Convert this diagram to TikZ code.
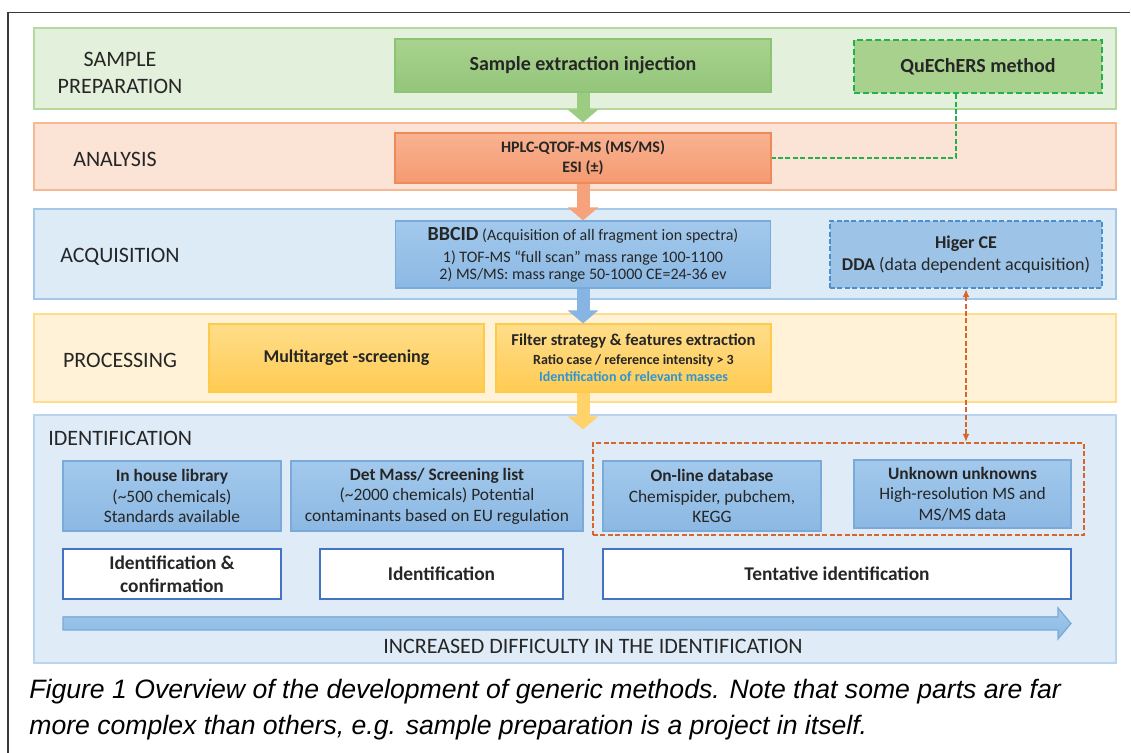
\documentclass[tikz,border=0pt]{standalone}
\usepackage{fontspec}
\setmainfont{Carlito}
\newfontfamily\capfont{Liberation Sans}
\usetikzlibrary{arrows.meta}
\definecolor{txtGray}{HTML}{262626}
\definecolor{frameGray}{HTML}{3A3A3A}
\definecolor{sampleFill}{HTML}{E3F0DB}
\definecolor{sampleLine}{HTML}{B5D8A0}
\definecolor{greenTop}{HTML}{A9D38F}
\definecolor{greenBot}{HTML}{93C57A}
\definecolor{greenLine}{HTML}{8CC474}
\definecolor{greenArrow}{HTML}{9CCB82}
\definecolor{quechersFill}{HTML}{A9D18E}
\definecolor{dashGreen}{HTML}{22B14C}
\definecolor{analysisFill}{HTML}{FBE3D5}
\definecolor{analysisLine}{HTML}{F6B994}
\definecolor{orangeTop}{HTML}{F9B291}
\definecolor{orangeBot}{HTML}{F49A70}
\definecolor{orangeLine}{HTML}{EE8A5A}
\definecolor{orangeArrow}{HTML}{F6A27C}
\definecolor{acqFill}{HTML}{DDEBF7}
\definecolor{acqLine}{HTML}{A6C8E8}
\definecolor{blueTop}{HTML}{A3C9EC}
\definecolor{blueBot}{HTML}{8BB8E3}
\definecolor{blueLine}{HTML}{7AAAD9}
\definecolor{higerFill}{HTML}{9DC3E6}
\definecolor{dashBlue}{HTML}{4A90D0}
\definecolor{blueArrow}{HTML}{86B5E3}
\definecolor{procFill}{HTML}{FFF2D6}
\definecolor{procLine}{HTML}{FFDD8C}
\definecolor{yellowTop}{HTML}{FFDD8A}
\definecolor{yellowBot}{HTML}{FFCB52}
\definecolor{yellowLine}{HTML}{FFC94A}
\definecolor{yellowArrow}{HTML}{FFD36A}
\definecolor{massBlue}{HTML}{2E95D3}
\definecolor{identFill}{HTML}{DFEBF7}
\definecolor{identLine}{HTML}{B8D4EE}
\definecolor{whiteLine}{HTML}{4472C4}
\definecolor{dashOrange}{HTML}{D8662B}
\begin{document}
\begin{tikzpicture}[x=0.5pt, y=-0.5pt,
    bandStyle/.style={rectangle, draw, line width=0.6pt, minimum width=541pt, inner sep=0pt},
    tagStyle/.style={font=\fontsize{11}{13.5}\selectfont, text=txtGray, align=center, inner sep=0pt},
    boxStyle/.style={rectangle, draw, line width=0.6pt, inner sep=0pt, align=center, text=txtGray},
    greenBox/.style={boxStyle, top color=greenTop, bottom color=greenBot, draw=greenLine},
    orangeBox/.style={boxStyle, top color=orangeTop, bottom color=orangeBot, draw=orangeLine},
    blueBox/.style={boxStyle, top color=blueTop, bottom color=blueBot, draw=blueLine},
    yellowBox/.style={boxStyle, top color=yellowTop, bottom color=yellowBot, draw=yellowLine, minimum width=137.5pt, minimum height=34pt},
    idBox/.style={blueBox, minimum height=35pt, font=\fontsize{8.7}{10.3}\selectfont},
    whiteBox/.style={boxStyle, fill=white, draw=whiteLine, line width=1pt, minimum height=25pt, font=\bfseries\fontsize{9.7}{11.5}\selectfont},
    flowArrow/.style={line width=6.5pt, -{Triangle[width=15pt, length=6.5pt]}},
    linkDash/.style={line width=1.1pt, dash pattern=on 2.5pt off 1.2pt},
    capStyle/.style={font=\capfont\itshape\fontsize{13.3}{15}\selectfont, inner sep=0pt, anchor=west}]
    \useasboundingbox (0, 0) rectangle (1131, 753);
    \fill[white] (0, 0) rectangle (1131, 753);
    \draw[frameGray, line width=0.75pt] (8, 753) -- (8, 12.7) -- (1130, 12.7);

    \node[bandStyle, fill=sampleFill,   draw=sampleLine,   minimum height=40.5pt] (sampleBand)   at (575,  68.5) {};
    \node[bandStyle, fill=analysisFill, draw=analysisLine, minimum height=33.5pt] (analysisBand) at (575, 156.5) {};
    \node[bandStyle, fill=acqFill,      draw=acqLine,      minimum height=45pt]   (acqBand)      at (575, 254) {};
    \node[bandStyle, fill=procFill,     draw=procLine,     minimum height=44pt]   (procBand)     at (575, 358) {};
    \node[bandStyle, fill=identFill,    draw=identLine,    minimum height=124pt]  (identBand)    at (575, 539) {};

    \node[tagStyle] (sampleTag)   at (120, 73) {SAMPLE\\PREPARATION};
    \node[tagStyle] (analysisTag) at (115, 159) {ANALYSIS};
    \node[tagStyle] (acqTag)      at (120, 257) {ACQUISITION};
    \node[tagStyle] (procTag)     at (120, 360) {PROCESSING};
    \node[tagStyle, anchor=west] (identTag) at (48, 438) {IDENTIFICATION};

    \node[greenBox, minimum width=188pt, minimum height=26.5pt, font=\bfseries\fontsize{10}{12}\selectfont] (extractBox) at (583, 65.5) {Sample extraction injection};
    \node[boxStyle, fill=quechersFill, draw=dashGreen, line width=1.2pt, dash pattern=on 3pt off 1.5pt, minimum width=124pt, minimum height=26.5pt, font=\bfseries\fontsize{10}{12}\selectfont] (quechersBox) at (978, 66.5) {QuEChERS method};

    \node[orangeBox, minimum width=188pt, minimum height=25pt, font=\bfseries\fontsize{8}{10}\selectfont] (hplcBox) at (583, 158) {HPLC-QTOF-MS (MS/MS)\\ESI (±)};

    \node[blueBox, minimum width=187.5pt, minimum height=33.5pt, font=\fontsize{8}{8.5}\selectfont] (bbcidBox) at (583, 254.5) {{\bfseries\fontsize{10}{10}\selectfont BBCID} (Acquisition of all fragment ion spectra)\\[2.5pt]1) TOF-MS “full scan” mass range 100-1100\\2) MS/MS: mass range 50-1000 CE=24-36 ev};
    \node[boxStyle, fill=higerFill, draw=dashBlue, line width=1.1pt, dash pattern=on 2.5pt off 1.2pt, minimum width=136pt, minimum height=33.5pt, font=\fontsize{9}{11}\selectfont] (higerBox) at (966, 254.5) {\textbf{Higer CE}\\\textbf{DDA} (data dependent acquisition)};

    \node[yellowBox, font=\bfseries\fontsize{9}{11}\selectfont] (multiBox) at (346.5, 358) {Multitarget -screening};
    \node[yellowBox, font=\bfseries\fontsize{7}{8.5}\selectfont] (filterBox) at (633.5, 358) {{\fontsize{8.3}{8.5}\selectfont Filter strategy \& features extraction}\\[1pt]Ratio case / reference intensity > 3\\\textcolor{massBlue}{Identification of relevant masses}};

    \node[rectangle, draw=dashOrange, line width=1.1pt, dash pattern=on 2.5pt off 1.2pt, minimum width=245.5pt, minimum height=46pt] (webRect) at (838.5, 489) {};

    \node[idBox, minimum width=109pt]   (libBox)     at (172, 496) {\textbf{In house library}\\(\textasciitilde500 chemicals)\\Standards available};
    \node[idBox, minimum width=146pt]   (detBox)     at (437, 496) {\textbf{Det Mass/ Screening list}\\(\textasciitilde2000 chemicals) Potential\\contaminants based on EU regulation};
    \node[idBox, minimum width=109pt]   (onlineBox)  at (712, 496) {\textbf{On-line database}\\Chemispider, pubchem,\\KEGG};
    \node[idBox, minimum width=108.5pt, minimum height=34pt] (unknownBox) at (962.5, 494) {\textbf{Unknown unknowns}\\High-resolution MS and\\MS/MS data};

    \node[whiteBox, minimum width=109pt]   (confBox)  at (172, 574) {Identification \&\\confirmation};
    \node[whiteBox, minimum width=121.5pt] (identBox) at (441.5, 574) {Identification};
    \node[whiteBox, minimum width=234pt]   (tentBox)  at (837, 574) {Tentative identification};

    \filldraw[top color=blueTop, bottom color=blueBot, draw=blueLine, line width=0.6pt] (63, 617) -- (1058, 617) -- (1058, 608) -- (1071, 623.5) -- (1058, 639) -- (1058, 630) -- (63, 630) -- cycle;
    \node[tagStyle] (diffTag) at (593, 646) {INCREASED DIFFICULTY IN THE IDENTIFICATION};

    \draw[flowArrow, draw=greenArrow] (extractBox.south) -- (extractBox.south |- analysisBand.north);
    \draw[flowArrow, draw=orangeArrow] (hplcBox.south) -- (bbcidBox.north);
    \draw[flowArrow, draw=blueArrow] (bbcidBox.south) -- (bbcidBox.south |- filterBox.north);
    \draw[flowArrow, draw=yellowArrow, shorten >=-7.5pt] (bbcidBox.south |- filterBox.south) -- (bbcidBox.south |- identBand.north);

    \draw[linkDash, draw=dashGreen] ([xshift=-11pt]quechersBox.south) |- (hplcBox.east);
    \draw[linkDash, draw=dashOrange, {Latex[length=4pt, width=3.5pt]}-{Latex[length=4pt, width=3.5pt]}] (higerBox.south) -- (higerBox.south |- webRect.north);

    \node[capStyle] (capLine1) at (29, 692) {Figure 1 Overview of the development of generic methods. Note that some parts are far};
    \node[capStyle] (capLine2) at (29, 728) {more complex than others, e.g. sample preparation is a project in itself.};
\end{tikzpicture}
\end{document}
